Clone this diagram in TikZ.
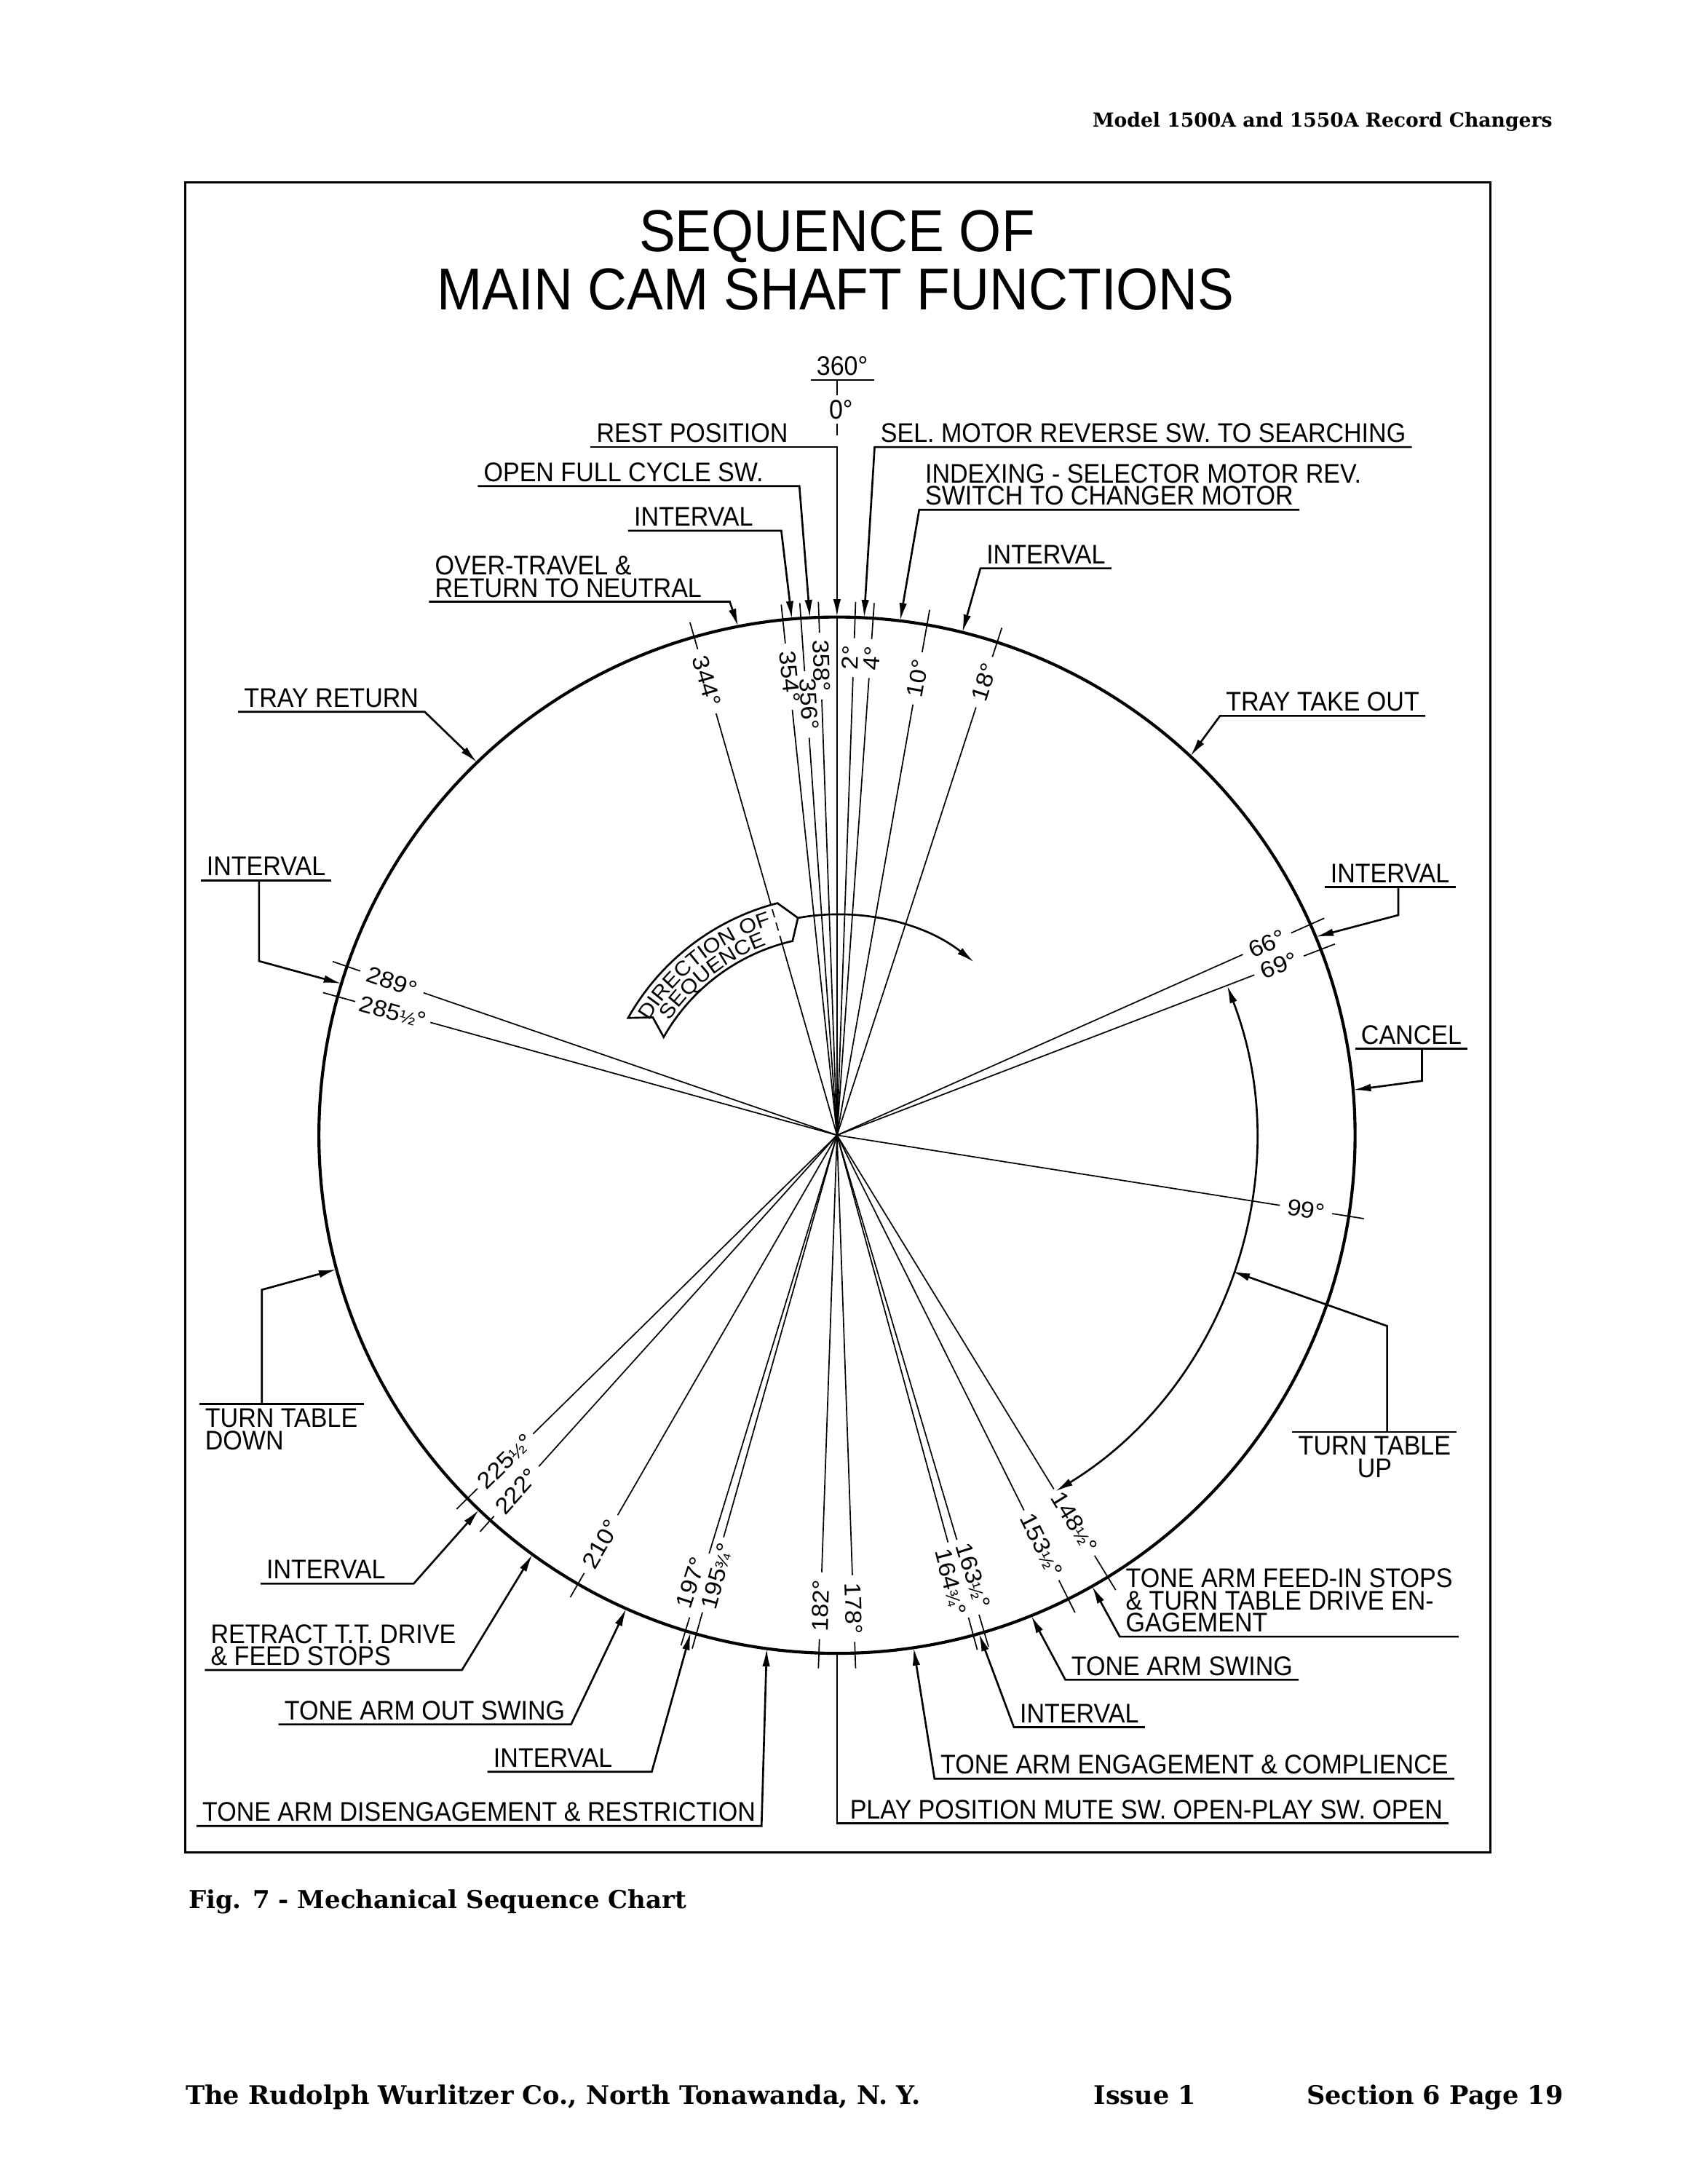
\documentclass[tikz,border=0pt]{standalone}
\usepackage{fontspec}
\setmainfont{DejaVu Serif}
\newfontfamily\lettering{Liberation Sans}[FakeStretch=0.92]
\newfontfamily\degfont{Liberation Sans}[FakeStretch=1.08]
\newcommand\bannerfont{\degfont\fontsize{7.5}{8}\selectfont}
\newcommand\hf{{\fontsize{6.5}{6}\selectfont ½}}
\newcommand\tq{{\fontsize{6.5}{6}\selectfont ¾}}
\usetikzlibrary{arrows.meta, calc, decorations.text}

\begin{document}
\begin{tikzpicture}[x=0.017814cm, y=-0.017814cm,
  >={Latex[length=6.5pt, width=2.8pt]},
  lab/.style={font=\lettering\fontsize{9.8}{8.1}\selectfont, inner xsep=2pt, inner ysep=1.5pt,
              text depth=0pt, align=left, anchor=south west},
  deg/.style={font=\degfont\fontsize{8.4}{8.4}\selectfont, inner sep=0pt},
  ray/.style={line width=0.45pt},
  lead/.style={->, line width=0.7pt},
  bare/.style={line width=0.7pt},
  rim/.style={line width=1.1pt},
  pagetext/.style={font=\bfseries\fontsize{9.3}{11}\selectfont, inner sep=0pt},
]
  \useasboundingbox (0,0) rectangle (1212,1568);
  \draw[line width=0.9pt] (133,131) rectangle (1070,1330);

  \node[font=\lettering\fontsize{21.5}{24}\selectfont] (title1) at (601,170) {SEQUENCE OF};
  \node[font=\lettering\fontsize{21.5}{24}\selectfont] (title2) at (600,208) {MAIN CAM SHAFT FUNCTIONS};

  \begin{scope}[shift={(601,815)}]
    \coordinate (c) at (0,0);
    \draw[rim] (c) circle[radius=372];

    \coordinate (tRest) at (-90:372);
    \coordinate (tSel) at (-87:372);
    \coordinate (tOpen) at (-93:372);
    \coordinate (tIntA) at (-95:372);
    \coordinate (tOver) at (-101:372);
    \coordinate (tIndex) at (-83:372);
    \coordinate (tIntB) at (-76:372);
    \coordinate (tTake) at (-47:372);
    \coordinate (tIntC) at (-22.5:372);
    \coordinate (tCancel) at (-5:372);
    \coordinate (tUp) at (19:300);
    \coordinate (tFeed) at (60.5:372);
    \coordinate (tSwing) at (68:372);
    \coordinate (tIntD) at (74.1:372);
    \coordinate (tEng) at (81.5:372);
    \coordinate (tPlay) at (90:372);
    \coordinate (tDis) at (97.8:372);
    \coordinate (tIntE) at (106.4:372);
    \coordinate (tOut) at (114:372);
    \coordinate (tRetract) at (126:372);
    \coordinate (tIntF) at (133.7:372);
    \coordinate (tDown) at (165:372);
    \coordinate (tIntG) at (197:372);
    \coordinate (tReturn) at (226:372);

    \draw[ray] (c) -- (tRest);
    \foreach \a/\b/\t/\r/\h [count=\i] in {
        2/1.6/2°/343/9, 4/4.2/4°/343/9, 10/10/10°/333/14, 18/18/18°/342/14,
        66/66/66°/338/14, 69/69/69°/340/14, 99/99/99°/341/14,
        148.5/148.5/148\hf°/326/23, 153.5/153.5/153\hf°/329/23,
        163.5/162.8/163\hf°/331/23, 164.75/165.7/164\tq°/331/23,
        178/178/178°/340/19, 182/182/182°/338/19,
        195.75/195.2/195\tq°/328/23, 197/198.1/197°/338/19,
        210/210/210°/339/19, 222/222/222°/344/19, 225.5/225.5/225\hf°/334/23,
        285.5/285.5/285\hf°/331/23, 289/289/289°/338/19,
        344/344/344°/339/19, 354/354.1/354°/331/19, 356/356.3/356°/310/19, 358/358.1/358°/337/19} {
      \pgfmathsetmacro\rot{\b<180 ? 90-\b : 270-\b}
      \draw[ray] (c) -- (\a-90:\r-\h-5);
      \node[deg, rotate=\rot] (deg\i) at (\b-90:\r) {\t};
      \draw[ray] (\a-90:\r+\h+5) -- (\a-90:383);
    }

    \draw[bare, <->] (-21:300) arc[start angle=-21, end angle=58.5, radius=300];

    \filldraw[bare, fill=white] (-150.7:172) arc[start angle=-150.7, end angle=-104.4, radius=172]
      -- (-100.2:158.5) -- (-102.9:143) arc[start angle=-102.9, end angle=-150.5, radius=143]
      -- (-147.4:157) -- cycle;
    \draw[ray, dash pattern=on 3pt off 2pt] (-106:143) -- (-106:172);
    \path[decorate, decoration={text along path, text align=center,
        text={|\bannerfont|DIRECTION OF}}]
      (-150:158) arc[start angle=-150, end angle=-106, radius=158];
    \path[decorate, decoration={text along path, text align=center,
        text={|\bannerfont|SEQUENCE}}]
      (-146:145.5) arc[start angle=-146, end angle=-110, radius=145.5];
    \draw[lead] (-100.2:158.5) arc[start angle=-100.2, end angle=-51.6, radius=158.5];
  \end{scope}

  \node[lab] (z360) at (582,273) {360°};
  \node[lab] (z0) at (591,304) {0°};
  \draw[ray] (z360.south -| tRest) -- (z0.north -| tRest);

  \coordinate (kIntC) at (1004,657);
  \coordinate (kCancel) at (1021,776);
  \coordinate (kUp) at (996,952);
  \coordinate (kDown) at (188,926);
  \coordinate (kIntG) at (186,690);
  \coordinate (kOpen) at (574,349);
  \coordinate (kIntA) at (561,381);
  \coordinate (kOver) at (524,432);
  \coordinate (kIntE) at (468,1272);
  \coordinate (kIntF) at (297,1137);

  \node[lab] (nRest) at (424,321) {REST POSITION};
  \node[lab] (nSel) at (628,321) {SEL. MOTOR REVERSE SW. TO SEARCHING};
  \node[lab] (nOpen) at (343,349) {OPEN FULL CYCLE SW.};
  \node[lab] (nIntA) at (451,381) {INTERVAL};
  \node[lab] (nOver) at (308,432) {OVER-TRAVEL \&\\RETURN TO NEUTRAL};
  \node[lab] (nIndexA) at (660,350) {INDEXING - SELECTOR MOTOR REV.};
  \node[lab] (nIndexB) at (660,366) {SWITCH TO CHANGER MOTOR};
  \node[lab] (nIntB) at (704,408) {INTERVAL};
  \node[lab] (nTake) at (876,514) {TRAY TAKE OUT};
  \node[lab] (nIntC) at (951,637) {INTERVAL};
  \node[lab] (nCancel) at (973,753) {CANCEL};
  \node[lab, anchor=north, align=center] (nUp) at (987,1028) {TURN TABLE\\UP};
  \node[lab] (nFeed) at (804,1175) {TONE ARM FEED-IN STOPS\\\& TURN TABLE DRIVE EN-\\GAGEMENT};
  \node[lab] (nSwing) at (765,1206) {TONE ARM SWING};
  \node[lab] (nIntD) at (728,1240) {INTERVAL};
  \node[lab] (nEng) at (671,1277) {TONE ARM ENGAGEMENT \& COMPLIENCE};
  \node[lab] (nPlay) at (606,1309) {PLAY POSITION MUTE SW. OPEN-PLAY SW. OPEN};
  \node[lab] (nDis) at (141,1311) {TONE ARM DISENGAGEMENT \& RESTRICTION};
  \node[lab] (nIntE) at (350,1272) {INTERVAL};
  \node[lab] (nOut) at (200,1238) {TONE ARM OUT SWING};
  \node[lab] (nRetract) at (147,1199) {RETRACT T.T. DRIVE\\\& FEED STOPS};
  \node[lab] (nIntF) at (187,1137) {INTERVAL};
  \node[lab, anchor=north west] (nDown) at (143,1008) {TURN TABLE\\DOWN};
  \node[lab] (nIntG) at (144,632) {INTERVAL};
  \node[lab] (nReturn) at (171,511) {TRAY RETURN};

  \draw[ray] (z0.south -| tRest) -- ($(z0.south -| tRest)!0.5!(nRest.south -| tRest)$);
  \draw[ray] (z360.south west) -- (z360.south east);

  \draw[lead] (nRest.south west) -- (nRest.south west -| tRest) -- (tRest);
  \draw[lead] (nSel.south east) -- (nSel.south west) -- (tSel);
  \draw[lead] (nOpen.south west) -- (kOpen) -- (tOpen);
  \draw[lead] (nIntA.south west) -- (kIntA) -- (tIntA);
  \draw[lead] (nOver.south west) -- (kOver) -- (tOver);
  \draw[lead] (nIndexB.south east) -- (nIndexB.south west) -- (tIndex);
  \draw[lead] (nIntB.south east) -- (nIntB.south west) -- (tIntB);
  \draw[lead] (nTake.south east) -- (nTake.south west) -- (tTake);
  \draw[bare] (nIntC.south west) -- (nIntC.south east);
  \draw[lead] (nIntC.south -| kIntC) -- (kIntC) -- (tIntC);
  \draw[bare] (nCancel.south west) -- (nCancel.south east);
  \draw[lead] (nCancel.south -| kCancel) -- (kCancel) -- (tCancel);
  \draw[bare] (nUp.north west) -- (nUp.north east);
  \draw[lead] (nUp.north -| kUp) -- (kUp) -- (tUp);
  \draw[lead] (nFeed.south east) -- (nFeed.south west) -- (tFeed);
  \draw[lead] (nSwing.south east) -- (nSwing.south west) -- (tSwing);
  \draw[lead] (nIntD.south east) -- (nIntD.south west) -- (tIntD);
  \draw[lead] (nEng.south east) -- (nEng.south west) -- (tEng);
  \draw[bare] (nPlay.south east) -- (nPlay.south west -| tPlay) -- (tPlay);
  \draw[lead] (nDis.south west) -- (nDis.south east) -- (tDis);
  \draw[lead] (nIntE.south west) -- (kIntE) -- (tIntE);
  \draw[lead] (nOut.south west) -- (nOut.south east) -- (tOut);
  \draw[lead] (nRetract.south west) -- (nRetract.south east) -- (tRetract);
  \draw[lead] (nIntF.south west) -- (kIntF) -- (tIntF);
  \draw[bare] (nDown.north west) -- (nDown.north east);
  \draw[lead] (nDown.north -| kDown) -- (kDown) -- (tDown);
  \draw[bare] (nIntG.south west) -- (nIntG.south east);
  \draw[lead] (nIntG.south -| kIntG) -- (kIntG) -- (tIntG);
  \draw[lead] (nReturn.south west) -- (nReturn.south east) -- (tReturn);

  \node[pagetext, font=\bfseries\fontsize{7.05}{9}\selectfont, anchor=base east] (hdr) at (1115,91) {Model 1500A and 1550A Record Changers};
  \node[pagetext, font=\bfseries\fontsize{9}{11}\selectfont, anchor=base west] (fig) at (135,1370) {Fig. 7 - Mechanical Sequence Chart};
  \node[pagetext, anchor=base west] (ftA) at (133,1511) {The Rudolph Wurlitzer Co., North Tonawanda, N. Y.};
  \node[pagetext, anchor=base west] (ftB) at (785,1511) {Issue 1};
  \node[pagetext, anchor=base east] (ftC) at (1123,1511) {Section 6 Page 19};
\end{tikzpicture}
\end{document}
